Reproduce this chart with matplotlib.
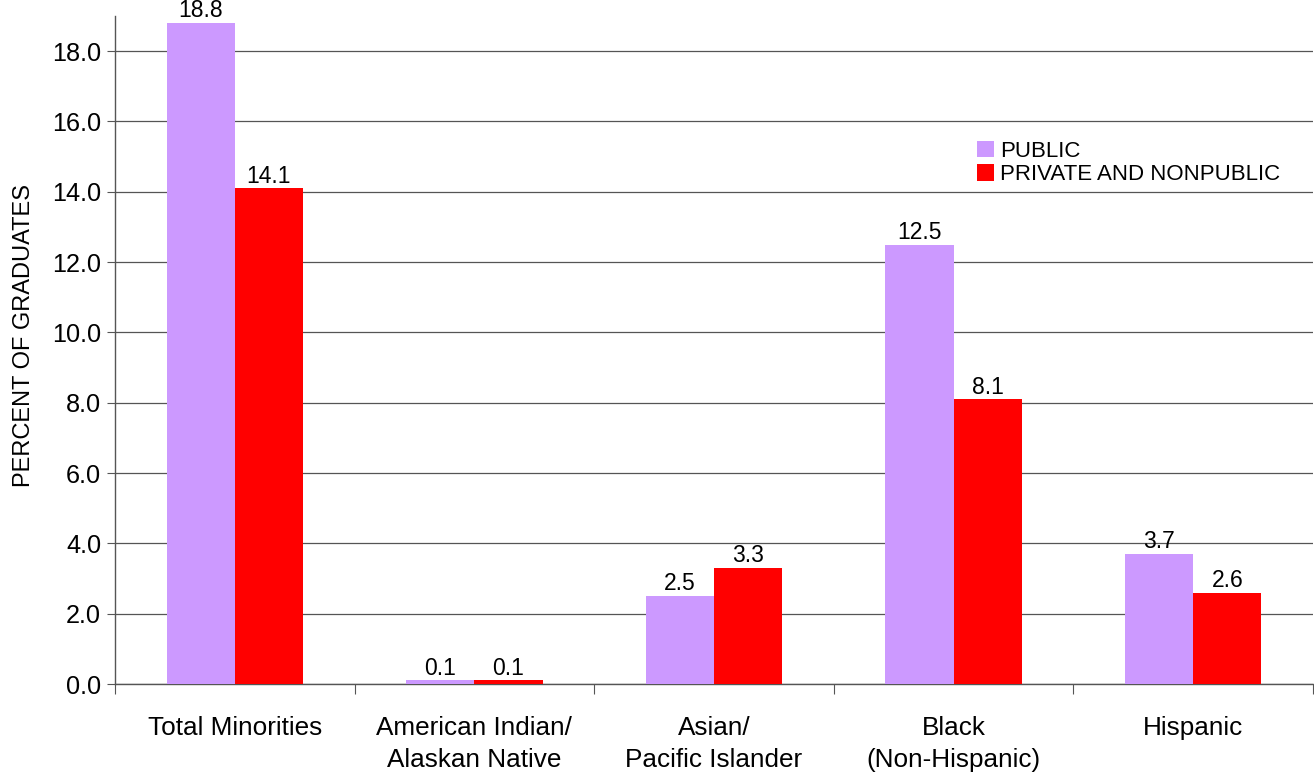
import numpy as np
from matplotlib import pyplot as plt

categories = ['Total Minorities', 'American Indian/\nAlaskan Native', 'Asian/\nPacific Islander',
              'Black\n(Non-Hispanic)', 'Hispanic']
public = [18.8, 0.1, 2.5, 12.5, 3.7]
private = [14.1, 0.1, 3.3, 8.1, 2.6]
yticks = [0, 2, 4, 6, 8, 10, 12, 14, 16, 18]

plt.rcParams['font.family'] = ['Liberation Sans', 'DejaVu Sans']

fig = plt.figure(figsize=(13.14, 7.75), dpi=100)
ax = fig.add_axes([115 / 1314, 1 - 684 / 775, 1198 / 1314, 668 / 775])

x = np.arange(len(categories))
w = 0.285
b1 = ax.bar(x - w / 2, public, w, color='#CC99FF', label='PUBLIC', zorder=3)
b2 = ax.bar(x + w / 2, private, w, color='#FF0000', label='PRIVATE AND NONPUBLIC', zorder=3)

for bars, vals in ((b1, public), (b2, private)):
    for r, v in zip(bars, vals):
        ax.text(r.get_x() + r.get_width() / 2, v + 0.02, '%.1f' % v, ha='center', va='bottom',
                fontsize=16.5, zorder=4)

ax.set_xlim(-0.5, len(categories) - 0.5)
ax.set_ylim(0, 19)
ax.set_yticks(yticks)
ax.set_yticklabels(['%.1f' % t for t in yticks], fontsize=18.2)
ax.yaxis.grid(True, color='#555555', linewidth=0.9, zorder=0)
ax.set_axisbelow(True)

ax.set_xticks(np.arange(-0.5, len(categories)), minor=False)
ax.set_xticklabels([])
ax.set_xticks(x, minor=True)
ax.set_xticklabels(categories, minor=True, fontsize=18.8, linespacing=1.45)
ax.tick_params(axis='x', which='minor', length=0, pad=23)
ax.tick_params(axis='x', which='major', length=7, direction='out', color='#555555')
ax.tick_params(axis='y', length=6, direction='out', color='#555555', pad=4)

for s in ['top', 'right']:
    ax.spines[s].set_visible(False)
for s in ['left', 'bottom']:
    ax.spines[s].set_color('#555555')
    ax.spines[s].set_linewidth(1.0)

ax.set_ylabel('PERCENT OF GRADUATES', fontsize=17)
ax.yaxis.set_label_coords(-0.067, 0.522)

fig.legend(loc='upper left', bbox_to_anchor=(968 / 1314, 1 - 132 / 775), frameon=False,
           fontsize=16, handlelength=0.75, handleheight=0.75, handletextpad=0.3, labelspacing=0.1,
           borderaxespad=0)

plt.savefig('out.png')
